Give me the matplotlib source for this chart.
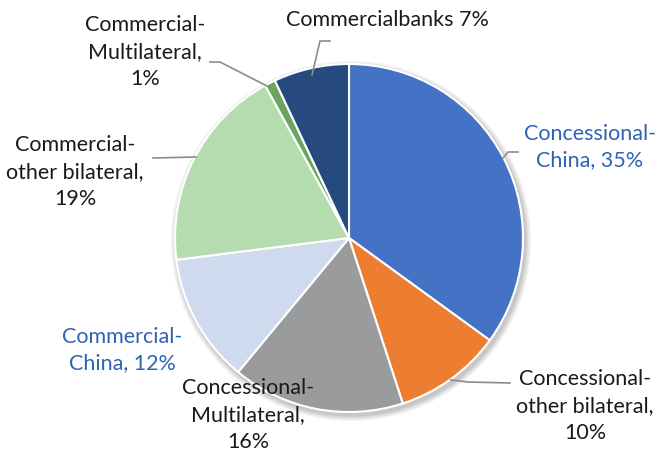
import matplotlib.pyplot as plt
from matplotlib.patches import Circle

# slice data, clockwise from 12 o'clock
labels = ["Concessional-\nChina, 35%", "Concessional-\nother bilateral,\n10%",
          "Concessional-\nMultilateral,\n16%", "Commercial-\nChina, 12%",
          "Commercial-\nother bilateral,\n19%", "Commercial-\nMultilateral,\n1%",
          "Commercialbanks 7%"]
shares = [35, 10, 16, 12, 19, 1, 7]
colors = ["#4472C4", "#ED7D31", "#999B9D", "#CFDAEE", "#B4DCAF", "#6BA460", "#264A7E"]
text_colors = ["#2F63B4", "#1a1a1a", "#1a1a1a", "#2F63B4", "#1a1a1a", "#1a1a1a", "#1a1a1a"]

plt.rcParams['font.family'] = ['Lato', 'DejaVu Sans']

fig = plt.figure(figsize=(6.57, 4.58), dpi=100)
ax = fig.add_axes([0, 0, 1, 1])

cx, cy, r = 349, 220, 174

# soft shadow behind the pie
for k, a in enumerate([0.05, 0.05, 0.06, 0.07]):
    ax.add_patch(Circle((cx + 2, cy - 3), r + 6 - k * 1.5, color="#000000", alpha=a, lw=0, zorder=0))

ax.pie(shares, colors=colors, startangle=90, counterclock=False,
       center=(cx, cy), radius=r, frame=True,
       wedgeprops=dict(edgecolor="white", linewidth=1.5, zorder=2))
ax.set_xlim(0, 657)
ax.set_ylim(0, 458)
ax.set_aspect('equal')
ax.axis('off')

# label layout (pixel coords measured from top-left)
label_pos = [(590, 147), (585, 406), (248, 415), (122, 350), (75, 172), (145, 52), (387, 20)]
leaders = [
    [(503, 158), (508, 152), (518, 152)],
    [(451, 380), (468, 382), (510, 383)],
    None,
    None,
    [(153, 158), (196, 157)],
    [(210, 62), (220, 62), (267, 86)],
    [(330, 41), (320, 41), (312, 75)],
]

for txt, (x, y), tc in zip(labels, label_pos, text_colors):
    ax.text(x, 458 - y, txt, ha='center', va='center', fontsize=15.5,
            color=tc, linespacing=1.42, zorder=5)

for pts in leaders:
    if pts is None:
        continue
    xs = [p[0] for p in pts]
    ys = [458 - p[1] for p in pts]
    ax.plot(xs, ys, color="#8C8C8C", lw=1.2, zorder=4)

fig.savefig("out.png", dpi=100)
